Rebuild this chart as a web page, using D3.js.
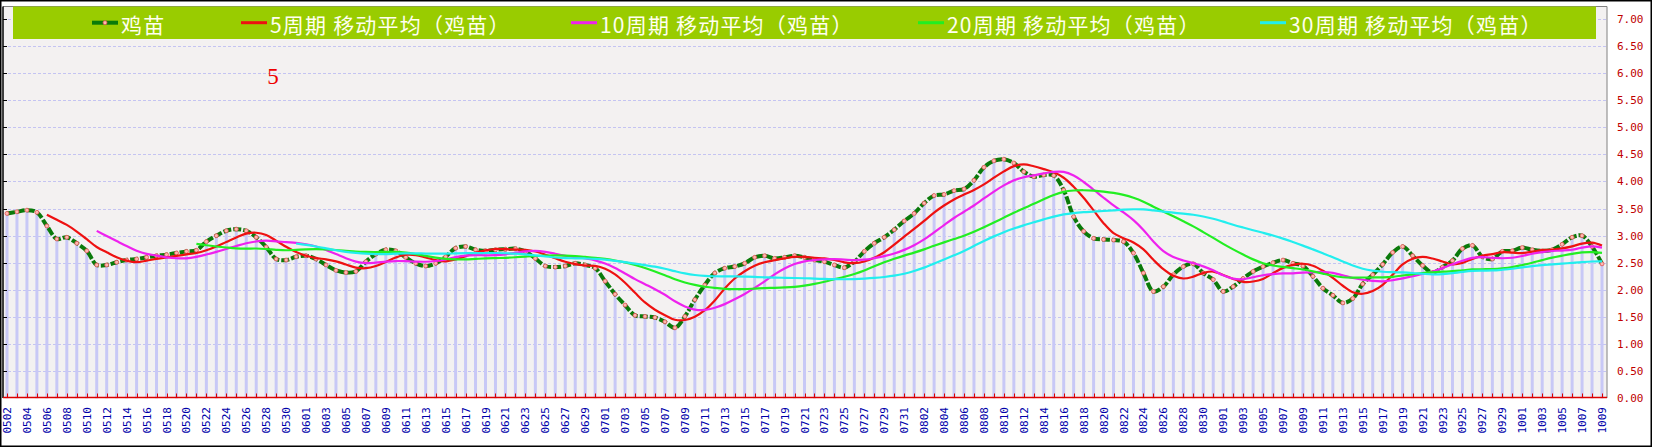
<!DOCTYPE html>
<html><head><meta charset="utf-8">
<script src="https://cdn.jsdelivr.net/npm/d3@7"></script>
<style>html,body{margin:0;padding:0;background:#fff;} svg{display:block;}</style>
</head><body>
<svg id="chart" width="1654" height="448"></svg>
<script>
// ---------------- DATA ----------------
const categories = [
"0502","0503","0504","0505","0506","0507","0508","0509","0510","0511","0512","0513","0514","0515","0516","0517","0518","0519","0520","0521","0522","0523","0524","0525","0526","0527","0528","0529","0530","0531",
"0601","0602","0603","0604","0605","0606","0607","0608","0609","0610","0611","0612","0613","0614","0615","0616","0617","0618","0619","0620","0621","0622","0623","0624","0625","0626","0627","0628","0629","0630",
"0701","0702","0703","0704","0705","0706","0707","0708","0709","0710","0711","0712","0713","0714","0715","0716","0717","0718","0719","0720","0721","0722","0723","0724","0725","0726","0727","0728","0729","0730","0731",
"0801","0802","0803","0804","0805","0806","0807","0808","0809","0810","0811","0812","0813","0814","0815","0816","0817","0818","0819","0820","0821","0822","0823","0824","0825","0826","0827","0828","0829","0830","0831",
"0901","0902","0903","0904","0905","0906","0907","0908","0909","0910","0911","0912","0913","0914","0915","0916","0917","0918","0919","0920","0921","0922","0923","0924","0925","0926","0927","0928","0929","0930",
"1001","1002","1003","1004","1005","1006","1007","1008","1009"
];
// 鸡苗 price
const chickPrice = [
3.41,3.44,3.47,3.43,3.18,2.94,2.97,2.86,2.72,2.46,
2.46,2.51,2.55,2.57,2.60,2.63,2.65,2.68,2.71,2.73,
2.89,3.00,3.09,3.12,3.09,2.97,2.79,2.57,2.55,2.61,
2.63,2.57,2.46,2.36,2.32,2.34,2.52,2.66,2.74,2.72,
2.60,2.49,2.44,2.49,2.61,2.77,2.80,2.74,2.72,2.74,
2.75,2.76,2.71,2.58,2.44,2.42,2.44,2.49,2.46,2.40,
2.16,1.92,1.72,1.53,1.51,1.49,1.41,1.30,1.51,1.82,
2.09,2.31,2.40,2.43,2.49,2.60,2.63,2.58,2.60,2.63,
2.60,2.55,2.52,2.46,2.41,2.52,2.71,2.86,2.97,3.11,
3.27,3.41,3.60,3.74,3.76,3.83,3.86,4.02,4.26,4.38,
4.41,4.34,4.18,4.09,4.12,4.11,3.84,3.35,3.08,2.95,
2.93,2.92,2.89,2.68,2.31,1.97,2.06,2.28,2.43,2.48,
2.31,2.19,1.97,2.06,2.21,2.34,2.43,2.50,2.55,2.49,
2.44,2.25,2.03,1.90,1.76,1.84,2.11,2.28,2.47,2.69,
2.80,2.63,2.45,2.32,2.42,2.54,2.76,2.82,2.61,2.57,
2.71,2.72,2.78,2.74,2.72,2.74,2.84,2.97,3.00,2.80,
2.48
];
const maPeriods = [5, 10, 20, 30];
const seriesNames = ["鸡苗", "5周期 移动平均（鸡苗）", "10周期 移动平均（鸡苗）", "20周期 移动平均（鸡苗）", "30周期 移动平均（鸡苗）"];
const yTickValues = [0, 0.5, 1, 1.5, 2, 2.5, 3, 3.5, 4, 4.5, 5, 5.5, 6, 6.5, 7];
const annotationText = "5";

// ---------------- STYLE / LAYOUT ----------------
const maColors = ["#ee1111", "#ee22ee", "#22ee22", "#22eeee"];
const legendX = [92, 241, 571, 918, 1260];

const svg = d3.select("#chart");
const plot = {left: 3, right: 1607, top: 6.5, bottom: 398};

const x = d3.scalePoint().domain(categories).range([7, 1602]);
const y = d3.scaleLinear().domain([0, 7]).range([398.3, 18.8]);

// moving average of the read series (definition of the MA lines)
function movingAverage(data, p) {
  return data.map((v, i) => i < p - 1 ? null : d3.mean(data.slice(i - p + 1, i + 1)));
}

// outer frame
svg.append("rect").attr("x", 0).attr("y", 0).attr("width", 1654).attr("height", 448).attr("fill", "#fff");
svg.append("rect").attr("x", 0.75).attr("y", 0.75).attr("width", 1650.5).attr("height", 445.5)
  .attr("fill", "none").attr("stroke", "#000").attr("stroke-width", 1.5);

// plot background
svg.append("rect").attr("x", plot.left).attr("y", plot.top)
  .attr("width", plot.right - plot.left).attr("height", plot.bottom - plot.top)
  .attr("fill", "#f3f1f1");

// gridlines
svg.append("g").selectAll("line").data(yTickValues.filter(v => v > 0)).join("line")
  .attr("x1", plot.left).attr("x2", plot.right)
  .attr("y1", d => Math.round(y(d)) + 0.5).attr("y2", d => Math.round(y(d)) + 0.5)
  .attr("stroke", "#c4c4f2").attr("stroke-width", 1).attr("stroke-dasharray", "3,2");

// bars
svg.append("g").selectAll("rect").data(chickPrice).join("rect")
  .attr("x", (d, i) => x(categories[i]) - 1.5)
  .attr("width", 3)
  .attr("y", d => y(d))
  .attr("height", d => y(0) - y(d))
  .attr("fill", "#c8c8f6");

// borders
svg.append("line").attr("x1", plot.left).attr("x2", plot.right).attr("y1", plot.top).attr("y2", plot.top)
  .attr("stroke", "#808080").attr("stroke-width", 1);
svg.append("line").attr("x1", plot.right).attr("x2", plot.right).attr("y1", plot.top).attr("y2", plot.bottom)
  .attr("stroke", "#808080").attr("stroke-width", 1);
svg.append("line").attr("x1", plot.left).attr("x2", plot.left).attr("y1", plot.top).attr("y2", plot.bottom)
  .attr("stroke", "#000").attr("stroke-width", 1.5);

// left ticks
svg.append("g").selectAll("line").data(yTickValues.filter(v => v > 0)).join("line")
  .attr("x1", plot.left).attr("x2", plot.left + 4)
  .attr("y1", d => Math.round(y(d)) + 0.5).attr("y2", d => Math.round(y(d)) + 0.5)
  .attr("stroke", "#000").attr("stroke-width", 1);

// bottom axis (red) with upward ticks
svg.append("line").attr("x1", plot.left).attr("x2", plot.right).attr("y1", 397.5).attr("y2", 397.5)
  .attr("stroke", "#dd0000").attr("stroke-width", 1.5);
svg.append("g").selectAll("line").data(categories).join("line")
  .attr("x1", d => Math.round(x(d)) + 0.5).attr("x2", d => Math.round(x(d)) + 0.5)
  .attr("y1", 397.5).attr("y2", 393.5)
  .attr("stroke", "#dd0000").attr("stroke-width", 1);

// x labels (every other)
svg.append("g").selectAll("text").data(categories.filter((d, i) => i % 2 === 0)).join("text")
  .attr("transform", d => `translate(${x(d) + 4},407) rotate(-90)`)
  .attr("text-anchor", "end")
  .attr("font-family", "DejaVu Sans Mono, monospace")
  .attr("font-size", 11)
  .attr("fill", "#0000aa")
  .text(d => d);

// y labels (right)
svg.append("g").selectAll("text").data(yTickValues).join("text")
  .attr("x", 1617).attr("y", d => y(d) + 4)
  .attr("font-family", "DejaVu Sans Mono, monospace")
  .attr("font-size", 11)
  .attr("fill", "#c00000")
  .text(d => d.toFixed(2));

// lines
const curve = d3.curveCatmullRom.alpha(0.5);
const lineGen = d3.line()
  .defined(d => d != null)
  .x((d, i) => x(categories[i]))
  .y(d => y(d))
  .curve(curve);

svg.append("path").datum(chickPrice)
  .attr("d", lineGen)
  .attr("fill", "none").attr("stroke", "#0a7a0a").attr("stroke-width", 4)
  .attr("stroke-dasharray", "8,2");

svg.append("g").selectAll("circle").data(chickPrice).join("circle")
  .attr("cx", (d, i) => x(categories[i])).attr("cy", d => y(d)).attr("r", 2)
  .attr("fill", "#ffb8b0").attr("stroke", "#e05050").attr("stroke-width", 0.8);

maPeriods.forEach((p, k) => {
  svg.append("path").datum(movingAverage(chickPrice, p))
    .attr("d", lineGen)
    .attr("fill", "none").attr("stroke", maColors[k]).attr("stroke-width", 2.2);
});

// legend
svg.append("rect").attr("x", 13).attr("y", 6.5).attr("width", 1583).attr("height", 32.5).attr("fill", "#99cc00");
const lg = svg.append("g");
seriesNames.forEach((name, k) => {
  const lx = legendX[k];
  if (k === 0) {
    lg.append("line").attr("x1", lx).attr("x2", lx + 26).attr("y1", 22.7).attr("y2", 22.7)
      .attr("stroke", "#0a7a0a").attr("stroke-width", 4);
    lg.append("circle").attr("cx", lx + 13).attr("cy", 22.7).attr("r", 2)
      .attr("fill", "#ffb8b0").attr("stroke", "#e05050").attr("stroke-width", 0.8);
  } else {
    lg.append("line").attr("x1", lx).attr("x2", lx + 26).attr("y1", 22.7).attr("y2", 22.7)
      .attr("stroke", maColors[k - 1]).attr("stroke-width", 3);
  }
  lg.append("text").attr("x", lx + 29).attr("y", 23.5)
    .attr("dominant-baseline", "central")
    .attr("font-family", "Noto Sans CJK SC, sans-serif")
    .attr("font-size", 21)
    .attr("letter-spacing", 1.2)
    .attr("fill", "#fffff0")
    .text(name);
});

// annotation
svg.append("text").attr("x", 273).attr("y", 84).attr("text-anchor", "middle")
  .attr("font-family", "Liberation Serif, serif").attr("font-size", 23)
  .attr("fill", "#ee0000").text(annotationText);
</script>
</body></html>
